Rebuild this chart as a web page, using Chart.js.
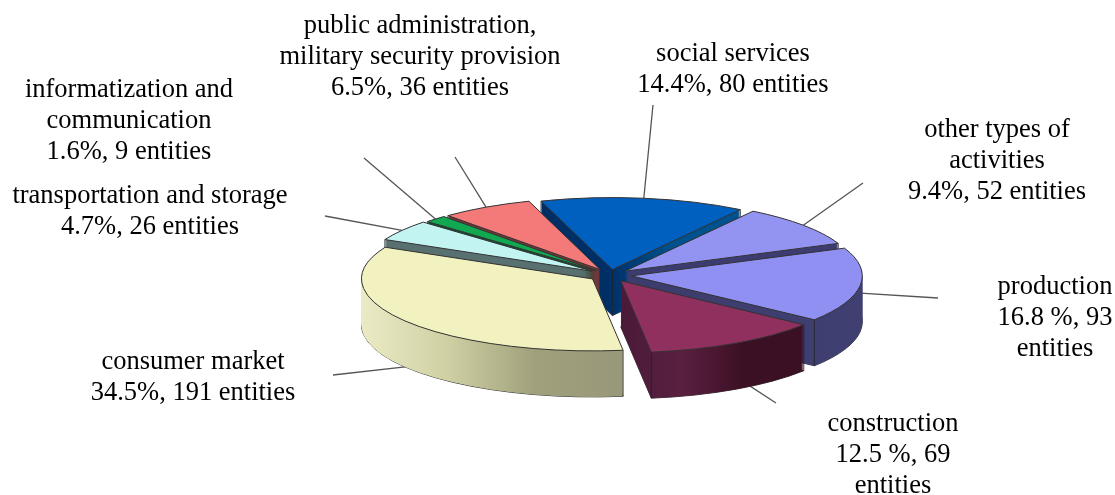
<!DOCTYPE html>
<html><head><meta charset="utf-8">
<style>html,body{margin:0;padding:0;background:#fff}canvas{display:block}</style>
<script src="https://cdn.jsdelivr.net/npm/chart.js@4"></script>
</head><body><canvas id="c" width="1115" height="495"></canvas>
<script>
const categories=['social services','other types of activities','production','construction','consumer market','transportation and storage','informatization and communication','public administration, military security provision'];
const entities=[80,52,93,69,191,26,9,36];
const percents=[14.4,9.4,16.8,12.5,34.5,4.7,1.6,6.5];
const topColors=['#0060c0','#9393f2','#9090f2','#90305e','#f2f2c0','#c2f4f2','#10a850','#f47a7a'];
const wallColors=[['#002f66','#002f66','#00528f','#00528f'],['#3c3c70','#3c3c70'],['#3c3c6c','#3f3f72'],['#4a1a38','#5a2040','#3c1024','#3c1024'],['#ecebc6','#d0d0a4','#a0a07c','#98987a'],['#587070','#587070'],['#105030','#105030'],['#703838','#703838']];
const labelLines=[['social services','14.4%, 80 entities'],['other types of','activities','9.4%, 52 entities'],['production','16.8 %, 93','entities'],['construction','12.5 %, 69','entities'],['consumer market','34.5%, 191 entities'],['transportation and storage','4.7%, 26 entities'],['informatization and','communication','1.6%, 9 entities'],['public administration,','military security provision','6.5%, 36 entities']];
const labelAt=[[733,54],[997,130],[1055,287],[893,424],[193,362],[150,196],[129,90],[420,26]];
const leaderEnd=[[653,105],[863,183],[938,298],[776,403],[333,375],[325,216],[364,158],[455,157]];
const leaderDrop=[0,0,8,34,46,0,0,0];
const drawOrder=[0,1,7,6,5,2,4,3];
const CX=610,CY=275,RX=231,RY=72,DEPTH=46,LINE=31;
const pie3d={id:'pie3d',beforeDatasetsDraw(chart){
  const ctx=chart.ctx,arcs=chart.getDatasetMeta(0).data;
  const path=(a,d)=>{const mid=(a.startAngle+a.endAngle)/2,o=a.options.offset||0;
    const k=RX/a.outerRadius,q=RY/a.outerRadius;
    ctx.save();ctx.translate(CX,CY+d);ctx.scale(k,q);ctx.translate(-a.x+Math.cos(mid)*o,-a.y+Math.sin(mid)*o);
    ctx.beginPath();ctx.moveTo(a.x,a.y);ctx.arc(a.x,a.y,a.outerRadius,a.startAngle,a.endAngle);ctx.closePath();ctx.restore();};
  const pt=(a,ang,r)=>{const mid=(a.startAngle+a.endAngle)/2,o=a.options.offset||0;
    const k=RX/a.outerRadius,q=RY/a.outerRadius;
    return [CX+k*(Math.cos(mid)*o+Math.cos(ang)*r),CY+q*(Math.sin(mid)*o+Math.sin(ang)*r)];};
  ctx.save();
  ctx.lineWidth=1.3;ctx.strokeStyle='#555';
  arcs.forEach((a,i)=>{const m=(a.startAngle+a.endAngle)/2,s=pt(a,m,a.outerRadius);
    ctx.beginPath();ctx.moveTo(s[0],s[1]+leaderDrop[i]);ctx.lineTo(leaderEnd[i][0],leaderEnd[i][1]);ctx.stroke();});
  drawOrder.forEach(i=>{const a=arcs[i];
    const pS=pt(a,a.startAngle,a.outerRadius),pE=pt(a,a.endAngle,a.outerRadius),pA=pt(a,0,0);
    const pM=pt(a,(a.startAngle+a.endAngle)/2,a.outerRadius);
    let x0=Math.min(pS[0],pE[0],pA[0],pM[0]),x1=Math.max(pS[0],pE[0],pA[0],pM[0]);
    if(i===4)x0=CX-RX-20; if(i===2)x1=CX+RX+25;
    const g=ctx.createLinearGradient(x0,0,x1,0);
    wallColors[i].forEach((c,j,arr)=>g.addColorStop(j/(arr.length-1),c));
    path(a,DEPTH);ctx.strokeStyle='#333';ctx.lineWidth=1;ctx.stroke();
    for(let d=DEPTH;d>0;d--){path(a,d);ctx.fillStyle=g;ctx.fill();}
    ctx.strokeStyle='#222';ctx.lineWidth=.8;
    const cutS=Math.cos(a.startAngle)<0,cutE=Math.cos(a.endAngle)>0;
    const edges=[];
    if(cutS||Math.sin(a.startAngle)>0)edges.push(pS);
    if(cutE||Math.sin(a.endAngle)>0)edges.push(pE);
    if(cutS&&cutE)edges.push(pA);
    edges.forEach(p=>{ctx.beginPath();ctx.moveTo(p[0],p[1]);ctx.lineTo(p[0],p[1]+DEPTH);ctx.stroke();});
    path(a,0);ctx.fillStyle=topColors[i];ctx.fill();ctx.strokeStyle='#333';ctx.lineWidth=1;ctx.stroke();
  });
  ctx.restore();
  return false;
},
afterDraw(chart){const ctx=chart.ctx;ctx.save();ctx.font='26.5px "Liberation Serif"';ctx.fillStyle='#000';ctx.textAlign='center';ctx.textBaseline='middle';
  labelLines.forEach((ls,i)=>ls.forEach((t,j)=>ctx.fillText(t,labelAt[i][0],labelAt[i][1]+j*LINE)));ctx.restore();}
};
new Chart(document.getElementById('c'),{type:'pie',plugins:[pie3d],data:{labels:categories,datasets:[{data:percents,backgroundColor:topColors,borderWidth:0,offset:[18,20,22,22,22,22,20,20]}]},
options:{responsive:false,animation:false,rotation:-18,plugins:{legend:{display:false},tooltip:{enabled:false}}}});
</script></body></html>
